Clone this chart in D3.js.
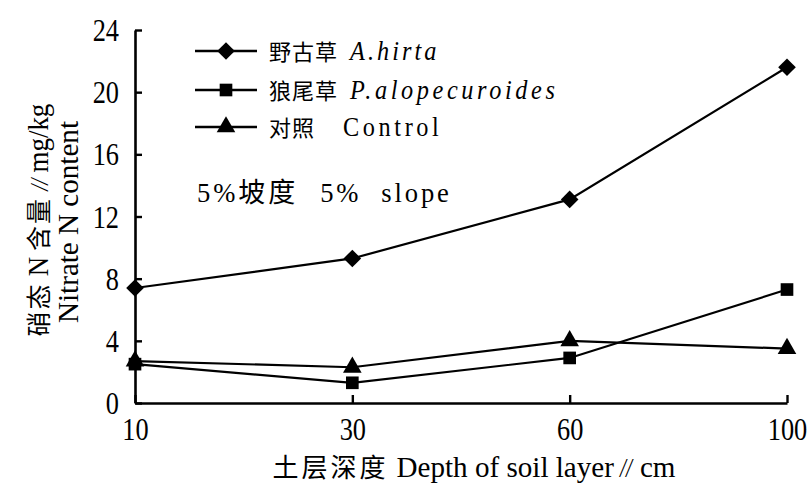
<!DOCTYPE html>
<html>
<head>
<meta charset="utf-8">
<script src="https://cdn.jsdelivr.net/npm/d3@7"></script>
<style>
  html, body { margin: 0; padding: 0; background: #fff; }
  svg { display: block; }
</style>
</head>
<body>
<svg id="chart" width="807" height="487"></svg>
<script>
// Soil depth layers (cm) and nitrate N content (mg/kg) per treatment
const depths = ["10", "30", "60", "100"];
const hirta = [7.4, 9.3, 13.1, 21.6];        // 野古草 A. hirta
const pennisetum = [2.5, 1.3, 2.9, 7.3];     // 狼尾草 P. alopecuroides
const control = [2.7, 2.3, 4.0, 3.5];        // 对照 Control
const yTicks = [0, 4, 8, 12, 16, 20, 24];

const CJK = "'Noto Sans CJK SC', sans-serif";
const SERIF = "'Liberation Serif', 'DejaVu Serif', serif";

const svg = d3.select("#chart");

const x = d3.scalePoint().domain(depths).range([135, 787]);
const y = d3.scaleLinear().domain([0, 24]).range([403, 30]);

// Text made of pieces in different fonts, each piece optionally squeezed horizontally
function rich(parent, pieces, opt) {
  const outer = parent.append("g")
    .attr("transform", `translate(${opt.x},${opt.y}) rotate(${opt.rotate || 0})`);
  const inner = outer.append("g");
  let cx = 0;
  pieces.forEach(p => {
    cx += p.gap || 0;
    const sx = p.sx || 1;
    const pg = inner.append("g").attr("transform", `translate(${cx},0) scale(${sx},1)`);
    const t = pg.append("text")
      .text(p.t)
      .attr("font-family", p.f)
      .attr("font-size", p.s)
      .attr("font-style", p.i ? "italic" : "normal")
      .attr("letter-spacing", p.ls || 0)
      .attr("fill", "#000");
    cx += t.node().getComputedTextLength() * sx;
  });
  if (opt.anchor === "middle") inner.attr("transform", `translate(${-cx / 2},0)`);
  return outer;
}

// Axes with inward ticks
const yAxis = svg.append("g")
  .attr("transform", `translate(${x.range()[0]},0)`)
  .call(d3.axisLeft(y).tickValues(yTicks).tickSizeInner(-7).tickSizeOuter(0).tickFormat(d3.format("d")));
const xAxis = svg.append("g")
  .attr("transform", `translate(0,${y(0)})`)
  .call(d3.axisBottom(x).tickSizeInner(-8).tickSizeOuter(0));

[yAxis, xAxis].forEach(a => {
  a.select(".domain").attr("stroke", "#000").attr("stroke-width", 2.6);
  a.selectAll(".tick line").attr("stroke", "#000").attr("stroke-width", 2.4);
  a.selectAll(".tick text").remove();
});

// Tick labels in a tall, narrow serif
const TICK_SX = 0.85;
yAxis.selectAll(".tick").each(function (d) {
  const g = d3.select(this).append("g").attr("transform", `translate(-16,0) scale(${TICK_SX},1)`);
  g.append("text").text(d).attr("text-anchor", "end").attr("dy", "0.34em")
    .attr("font-family", SERIF).attr("font-size", 31).attr("fill", "#000");
});
xAxis.selectAll(".tick").each(function (d) {
  const g = d3.select(this).append("g").attr("transform", `translate(0,37) scale(${TICK_SX},1)`);
  g.append("text").text(d).attr("text-anchor", "middle")
    .attr("font-family", SERIF).attr("font-size", 31).attr("fill", "#000");
});

// Markers: diamond is a square turned 45°
const squareSym = d3.symbol().type(d3.symbolSquare).size(155)();
const diamond = () => squareSym;
const square = d3.symbol().type(d3.symbolSquare).size(160);
const triangle = d3.symbol().type(d3.symbolTriangle).size(150);

const series = [
  { values: hirta, sym: diamond, rot: 45, cn: "野古草", en: "A.hirta", it: true, gap: 12, ls: 3.4 },
  { values: pennisetum, sym: square, rot: 0, cn: "狼尾草", en: "P.alopecuroides", it: true, gap: 12, ls: 4 },
  { values: control, sym: triangle, rot: 0, cn: "对照", en: "Control", it: false, gap: 28, ls: 4 }
];

const line = d3.line().x((d, i) => x(depths[i])).y(d => y(d));

series.forEach(s => {
  svg.append("path").datum(s.values)
    .attr("d", line).attr("fill", "none").attr("stroke", "#000").attr("stroke-width", 2.2);
  svg.append("g").selectAll("path").data(s.values).join("path")
    .attr("d", s.sym)
    .attr("transform", (d, i) => `translate(${x(depths[i])},${y(d)}) rotate(${s.rot})`)
    .attr("fill", "#000");
});

// Legend
const legendY = [51, 90, 127];
series.forEach((s, i) => {
  const ly = legendY[i];
  svg.append("line").attr("x1", 195).attr("x2", 257).attr("y1", ly).attr("y2", ly)
    .attr("stroke", "#000").attr("stroke-width", 2.4);
  svg.append("path").attr("d", s.sym).attr("transform", `translate(226,${ly}) rotate(${s.rot})`).attr("fill", "#000");
  rich(svg, [
    { t: s.cn, f: CJK, s: 22, ls: 1 },
    { t: s.en, f: SERIF, s: 27, sx: 0.9, i: s.it, ls: s.ls, gap: s.gap }
  ], { x: 269, y: ly + 9 });
});

// Slope note
rich(svg, [
  { t: "5%", f: SERIF, s: 28, sx: 0.95, ls: 3 },
  { t: "坡度", f: CJK, s: 27, ls: 3 },
  { t: "5%", f: SERIF, s: 28, sx: 0.95, ls: 3, gap: 22 },
  { t: "slope", f: SERIF, s: 28, sx: 0.95, ls: 3, gap: 20 }
], { x: 197, y: 202 });

// Axis titles
rich(svg, [
  { t: "土层深度", f: CJK, s: 26, ls: 3 },
  { t: "Depth of soil layer", f: SERIF, s: 30, sx: 0.97, gap: 8 },
  { t: "//", f: SERIF, s: 27, sx: 0.8, i: true, gap: 6 },
  { t: "cm", f: SERIF, s: 30, sx: 0.97, gap: 8 }
], { x: 474, y: 477, anchor: "middle" });

rich(svg, [
  { t: "硝态", f: CJK, s: 25, ls: 2 },
  { t: "N", f: SERIF, s: 30, sx: 0.9, gap: 6 },
  { t: "含量", f: CJK, s: 25, ls: 2, gap: 6 },
  { t: "//", f: SERIF, s: 26, sx: 0.85, i: true, gap: 6 },
  { t: "mg/kg", f: SERIF, s: 30, sx: 0.9, gap: 6 }
], { x: 48, y: 220, rotate: -90, anchor: "middle" });

rich(svg, [
  { t: "Nitrate N content", f: SERIF, s: 30, sx: 0.97 }
], { x: 78, y: 222, rotate: -90, anchor: "middle" });
</script>
</body>
</html>
